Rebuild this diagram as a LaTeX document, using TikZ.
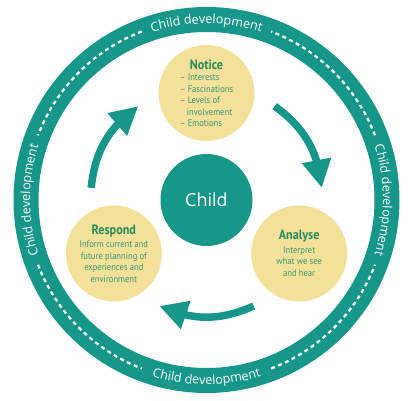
\documentclass[tikz,border=0pt]{standalone}
\usepackage{fontspec}
\usepackage{tikz}
\usetikzlibrary{arrows.meta, bending, decorations.text, positioning}
\newfontfamily\ringfont{Open Sans}
\newfontfamily\stagefont[FakeStretch=0.9]{PT Sans}
\definecolor{cycteal}{RGB}{23,150,138}
\definecolor{cycyellow}{RGB}{243,225,153}
\definecolor{titlegreen}{RGB}{40,138,92}
\definecolor{bodygreen}{RGB}{50,150,118}
\tikzset{
  ringband/.style={circle, draw=cycteal, line width=25pt, minimum size=361pt, inner sep=0pt},
  ringdash/.style={white, line width=2.2pt, dash pattern=on 4pt off 3.5pt},
  ringtext/.style={decorate, decoration={text along path, text align=center, text color=white,
      text={|\ringfont\fontsize{12.6}{12.6}\selectfont|Child development}}},
  stage/.style={circle, fill=cycyellow, minimum size=96pt, inner sep=0pt},
  stagetext/.style={align=center, text=bodygreen, font=\stagefont\fontsize{9.5}{11.5}\selectfont},
  childnode/.style={circle, fill=cycteal, minimum size=92pt, inner sep=0pt, text=white,
      font=\ringfont\fontsize{18}{18}\selectfont},
  cyclearrow/.style={cycteal, line width=7.5pt, -{Triangle[width=28pt,length=28pt]}},
}
\newcommand{\stagetitle}[1]{{\color{titlegreen}\bfseries\fontsize{13.5}{14}\selectfont #1}}

\begin{document}
\begin{tikzpicture}[x=1pt, y=1pt]
    \useasboundingbox (-206.5,-201) rectangle (206.5,200);

    % outer ring
    \node[ringband] (ring) at (0,0) {};
    \foreach \a in {0,90,180,270}
        \draw[ringdash] (\a+21:180.5) arc[start angle=\a+21, end angle=\a+69, radius=180.5];
    \foreach \a in {90,0,180}
        \path[ringtext] (\a+90:176.5) arc[start angle=\a+90, end angle=\a-90, radius=176.5];
    \path[ringtext] (180:184.5) arc[start angle=180, end angle=360, radius=184.5];

    % centre and stages
    \node[childnode] (child) at (0,0) {Child};
    \node[stage] (notice) at (90:107) {};
    \node[stage] (analyse) at (-30:107) {};
    \node[stage] (respond) at (210:107) {};

    \node[stagetext, yshift=-2pt] (notice_text) at (notice) {\stagetitle{Notice}\\[2pt]
        \begin{tabular}{@{}l@{}}– Interests\\ – Fascinations\\ – Levels of\\ \hspace*{7pt}involvement\\ – Emotions\end{tabular}};
    \node[stagetext] (analyse_text) at (analyse) {\stagetitle{Analyse}\\[2pt]
        Interpret\\ what we see\\ and hear};
    \node[stagetext] (respond_text) at (respond) {\stagetitle{Respond}\\[2pt]
        Inform current and\\ future planning of\\ experiences and\\ environment};

    % cycle arrows
    \coordinate (notice_out) at (54:116);
    \coordinate (analyse_in) at (6:116);
    \coordinate (analyse_out) at (-66:116);
    \coordinate (respond_in) at (-114:116);
    \coordinate (respond_out) at (174:116);
    \coordinate (notice_in) at (126:116);
    \draw[cyclearrow] (notice_out) to[bend left=24] (analyse_in);
    \draw[cyclearrow] (analyse_out) to[bend left=24] (respond_in);
    \draw[cyclearrow] (respond_out) to[bend left=24] (notice_in);
\end{tikzpicture}
\end{document}
